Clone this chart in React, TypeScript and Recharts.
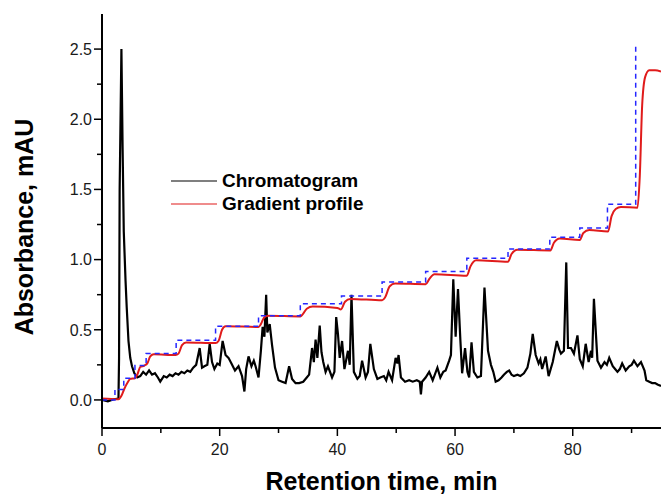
import { LineChart, Line, XAxis, YAxis } from 'recharts';

// chromatogram trace (black)
const chromTime = [
  0, 1, 2, 2.8, 2.9, 3.0, 3.3, 3.5, 3.7, 4.0, 4.2, 4.5, 4.8, 5.1, 5.5, 6.0, 6.5, 7.0, 7.5, 8.0,
  8.5, 9.0, 9.5, 9.9, 10.5, 11, 11.5, 12, 12.5, 13, 13.5, 14, 14.5, 15, 15.5, 16.0, 16.6, 17.0, 17.4, 17.9,
  18.3, 18.7, 19.1, 19.6, 20.0, 20.5, 21.0, 21.5, 22.0, 22.6, 23.2, 23.8, 24.2, 24.5, 24.9, 25.4, 25.8, 26.1, 26.6, 27.0,
  27.3, 27.6, 27.9, 28.1, 28.5, 28.9, 29.4, 30.0, 30.6, 31.2, 31.8, 32.3, 32.9, 33.5, 34.2, 34.8, 35.2, 35.7, 36.0, 36.3,
  36.6, 37.0, 37.3, 37.6, 38.0, 38.4, 39.1, 39.5, 39.8, 40.1, 40.4, 40.8, 41.2, 41.8, 42.1, 42.4, 42.8, 43.4, 43.8, 44.2,
  44.8, 45.2, 45.6, 46.2, 46.8, 47.3, 47.9, 48.3, 48.7, 49.3, 49.9, 50.2, 50.4, 50.8, 51.5, 52.2, 52.8, 53.5, 54.0, 54.2,
  54.4, 55.0, 55.6, 56.2, 57.0, 57.5, 58.0, 58.4, 59.0, 59.3, 59.7, 60.1, 60.5, 60.9, 61.2, 61.7, 62.1, 62.4, 62.8, 63.2,
  63.8, 64.4, 65.0, 65.6, 66.1, 66.5, 66.9, 67.4, 67.9, 68.3, 68.8, 69.2, 69.6, 70.0, 70.6, 71.1, 71.7, 72.3, 72.8, 73.2,
  73.7, 74.2, 74.5, 74.8, 75.4, 75.9, 76.6, 77.3, 77.7, 78.0, 78.5, 78.9, 79.2, 79.7, 80.2, 80.8, 81.2, 81.7, 82.2, 82.7,
  83.1, 83.3, 83.6, 84.2, 84.8, 85.4, 85.8, 86.2, 86.8, 87.2, 87.6, 88.0, 88.4, 89.0, 89.6, 90.0, 90.4, 91.0, 91.6, 92.2,
  92.5, 93.0, 93.5, 94.0, 94.4, 95.0,
];
const chromAbs = [
  0.0, -0.01, 0.005, 0.01, 0.3, 1.5, 2.5, 1.8, 1.2, 0.85, 0.66, 0.42, 0.3, 0.24, 0.19, 0.16, 0.17, 0.2, 0.18, 0.21,
  0.18, 0.19, 0.16, 0.13, 0.17, 0.16, 0.18, 0.17, 0.19, 0.18, 0.2, 0.19, 0.21, 0.2, 0.23, 0.25, 0.37, 0.23, 0.24, 0.25,
  0.4, 0.27, 0.22, 0.26, 0.25, 0.42, 0.32, 0.3, 0.26, 0.21, 0.24, 0.17, 0.06, 0.22, 0.31, 0.24, 0.28, 0.24, 0.16, 0.35,
  0.52, 0.45, 0.75, 0.48, 0.54, 0.39, 0.23, 0.14, 0.13, 0.12, 0.24, 0.15, 0.12, 0.12, 0.13, 0.16, 0.18, 0.37, 0.27, 0.43,
  0.3, 0.53, 0.34, 0.27, 0.2, 0.24, 0.16, 0.2, 0.59, 0.47, 0.3, 0.42, 0.22, 0.35, 0.25, 0.75, 0.2, 0.15, 0.17, 0.28,
  0.16, 0.2, 0.4, 0.22, 0.15, 0.16, 0.17, 0.14, 0.2, 0.14, 0.3, 0.26, 0.32, 0.16, 0.13, 0.14, 0.13, 0.14, 0.13, 0.04,
  0.13, 0.16, 0.2, 0.14, 0.23, 0.16, 0.2, 0.21, 0.28, 0.32, 0.86, 0.45, 0.79, 0.43, 0.19, 0.37, 0.2, 0.16, 0.41, 0.2,
  0.16, 0.17, 0.8, 0.35, 0.25, 0.2, 0.13, 0.14, 0.16, 0.18, 0.2, 0.21, 0.18, 0.17, 0.18, 0.17, 0.19, 0.23, 0.33, 0.47,
  0.32, 0.26, 0.29, 0.22, 0.31, 0.17, 0.27, 0.42, 0.36, 0.33, 0.35, 0.98, 0.37, 0.37, 0.33, 0.46, 0.29, 0.24, 0.4, 0.27,
  0.35, 0.3, 0.72, 0.28, 0.23, 0.27, 0.25, 0.3, 0.24, 0.22, 0.2, 0.22, 0.26, 0.21, 0.24, 0.25, 0.28, 0.24, 0.27, 0.21,
  0.14, 0.13, 0.12, 0.12, 0.11, 0.1,
];

// programmed gradient steps (blue dashed)
const stepTime = [0, 2.2, 3.7, 5.6, 7.5, 12.6, 19.3, 26.6, 33.7, 40.7, 47.6, 55.0, 62.0, 69.0, 76.1, 81.2, 85.9, 90.7];
const stepAbs = [0, 0.075, 0.155, 0.245, 0.33, 0.425, 0.525, 0.6, 0.685, 0.74, 0.84, 0.915, 1.01, 1.075, 1.16, 1.225, 1.395, 2.54];

// measured gradient profile (red)
const gradTime = [
  0, 2.8, 3.3, 3.8, 4.3, 4.8, 5.6, 6.0, 6.5, 7.2, 7.7, 8.2, 8.8, 12.5, 13.0, 13.6, 14.3, 19.3, 19.8, 20.4,
  21.0, 26.6, 27.0, 27.6, 28.3, 33.7, 34.1, 34.8, 35.8, 40.0, 40.6, 41.3, 42.2, 47.6, 48.1, 48.9, 49.8, 55.0, 55.6, 56.5,
  62.0, 62.6, 63.6, 69.0, 69.6, 70.6, 76.2, 76.8, 77.8, 81.2, 81.8, 82.8, 86.0, 86.6, 87.3, 88.2, 91.0, 91.4, 91.8, 92.3,
  93.0, 94.0, 95.0,
];
const gradAbs = [
  0.01, 0.005, 0.03, 0.08, 0.12, 0.15, 0.155, 0.18, 0.235, 0.245, 0.26, 0.31, 0.325, 0.32, 0.33, 0.39, 0.41, 0.405, 0.42, 0.5,
  0.525, 0.52, 0.54, 0.59, 0.6, 0.595, 0.61, 0.65, 0.665, 0.655, 0.645, 0.7, 0.72, 0.71, 0.73, 0.81, 0.83, 0.825, 0.86, 0.895,
  0.885, 0.95, 0.995, 0.985, 1.04, 1.07, 1.065, 1.12, 1.15, 1.14, 1.19, 1.21, 1.2, 1.31, 1.36, 1.375, 1.37, 1.6, 2.1, 2.3,
  2.35, 2.35, 2.34,
];

const xTicks = [0, 10, 20, 30, 40, 50, 60, 70, 80, 90];
const yTicks = [0, 0.25, 0.5, 0.75, 1, 1.25, 1.5, 1.75, 2, 2.25, 2.5];

const legendItems = ['Chromatogram', 'Gradient profile'];
const legendColors = ['#000', '#e01b1b'];

const chromData = chromTime.map((t, i) => ({ t, v: chromAbs[i] }));
const stepData = stepTime.map((t, i) => ({ t, v: stepAbs[i] }));
const gradData = gradTime.map((t, i) => ({ t, v: gradAbs[i] }));

const FONT = '"Liberation Sans", Arial, sans-serif';

function XTick({ x, y, payload }: any) {
  const major = payload.value % 20 === 0;
  return (
    <g>
      <line x1={x} x2={x} y1={y} y2={y + (major ? 8 : 5)} stroke="#000" strokeWidth={1.5} />
      {major && (
        <text x={x} y={y + 27} textAnchor="middle" fontSize={16} fontFamily={FONT} fill="#1a1a1a">
          {payload.value}
        </text>
      )}
    </g>
  );
}

function YTick({ x, y, payload }: any) {
  const major = Math.round(payload.value * 100) % 50 === 0;
  return (
    <g>
      <line x1={x - (major ? 8 : 5)} x2={x} y1={y} y2={y} stroke="#000" strokeWidth={1.5} />
      {major && (
        <text x={x - 10} y={y} dy="0.36em" textAnchor="end" fontSize={16} fontFamily={FONT} fill="#1a1a1a">
          {payload.value.toFixed(1)}
        </text>
      )}
    </g>
  );
}

// legend drawn as an overlay so it doesn't take space from the plot
function LegendBox() {
  return (
    <div
      style={{
        position: 'absolute',
        left: 171,
        top: 169,
        fontFamily: FONT,
        fontWeight: 'bold',
        fontSize: 19,
        color: '#000',
        lineHeight: '23px',
      }}
    >
      {legendItems.map((name, i) => (
        <div key={name} style={{ display: 'flex', alignItems: 'center', height: 23 }}>
          <svg width={46} height={4} style={{ marginRight: 5 }}>
            <line x1={0} x2={46} y1={2} y2={2} stroke={legendColors[i]} strokeWidth={1.2} />
          </svg>
          <span>{name}</span>
        </div>
      ))}
    </div>
  );
}

export default function App() {
  return (
    <div style={{ position: 'absolute', left: 0, top: 0, width: 661, height: 497, background: '#fff' }}>
      <LineChart width={661} height={497} margin={{ top: 14, right: 0, bottom: 0, left: 0 }}>
        <XAxis
          type="number"
          dataKey="t"
          domain={[0, 95]}
          ticks={xTicks}
          allowDataOverflow
          height={69}
          tickSize={0}
          tickMargin={0}
          tickLine={false}
          tick={<XTick />}
          axisLine={{ stroke: '#000', strokeWidth: 2 }}
          label={{
            content: ({ viewBox }: any) => (
              <text
                x={viewBox.x + viewBox.width / 2}
                y={viewBox.y + 62}
                textAnchor="middle"
                fontSize={25}
                fontWeight="bold"
                fontFamily={FONT}
                fill="#000"
              >
                Retention time, min
              </text>
            ),
          }}
        />
        <YAxis
          type="number"
          domain={[-0.2, 2.75]}
          ticks={yTicks}
          allowDataOverflow
          width={102}
          tickSize={0}
          tickMargin={0}
          tickLine={false}
          tick={<YTick />}
          axisLine={{ stroke: '#000', strokeWidth: 2 }}
          label={{
            content: ({ viewBox }: any) => {
              const cx = 33;
              const cy = viewBox.y + viewBox.height / 2 + 6;
              return (
                <text
                  x={cx}
                  y={cy}
                  transform={`rotate(-90 ${cx} ${cy})`}
                  textAnchor="middle"
                  fontSize={25}
                  fontWeight="bold"
                  fontFamily={FONT}
                  fill="#000"
                >
                  Absorbance, mAU
                </text>
              );
            },
          }}
        />
        <Line
          data={chromData}
          dataKey="v"
          type="linear"
          stroke="#000"
          strokeWidth={2.2}
          dot={false}
          isAnimationActive={false}
        />
        <Line
          data={gradData}
          dataKey="v"
          type="monotone"
          stroke="#e01b1b"
          strokeWidth={2}
          dot={false}
          isAnimationActive={false}
        />
        <Line
          data={stepData}
          dataKey="v"
          type="stepAfter"
          stroke="#2626ff"
          strokeWidth={1.5}
          strokeDasharray="5 4"
          dot={false}
          isAnimationActive={false}
        />
      </LineChart>
      <LegendBox />
    </div>
  );
}
